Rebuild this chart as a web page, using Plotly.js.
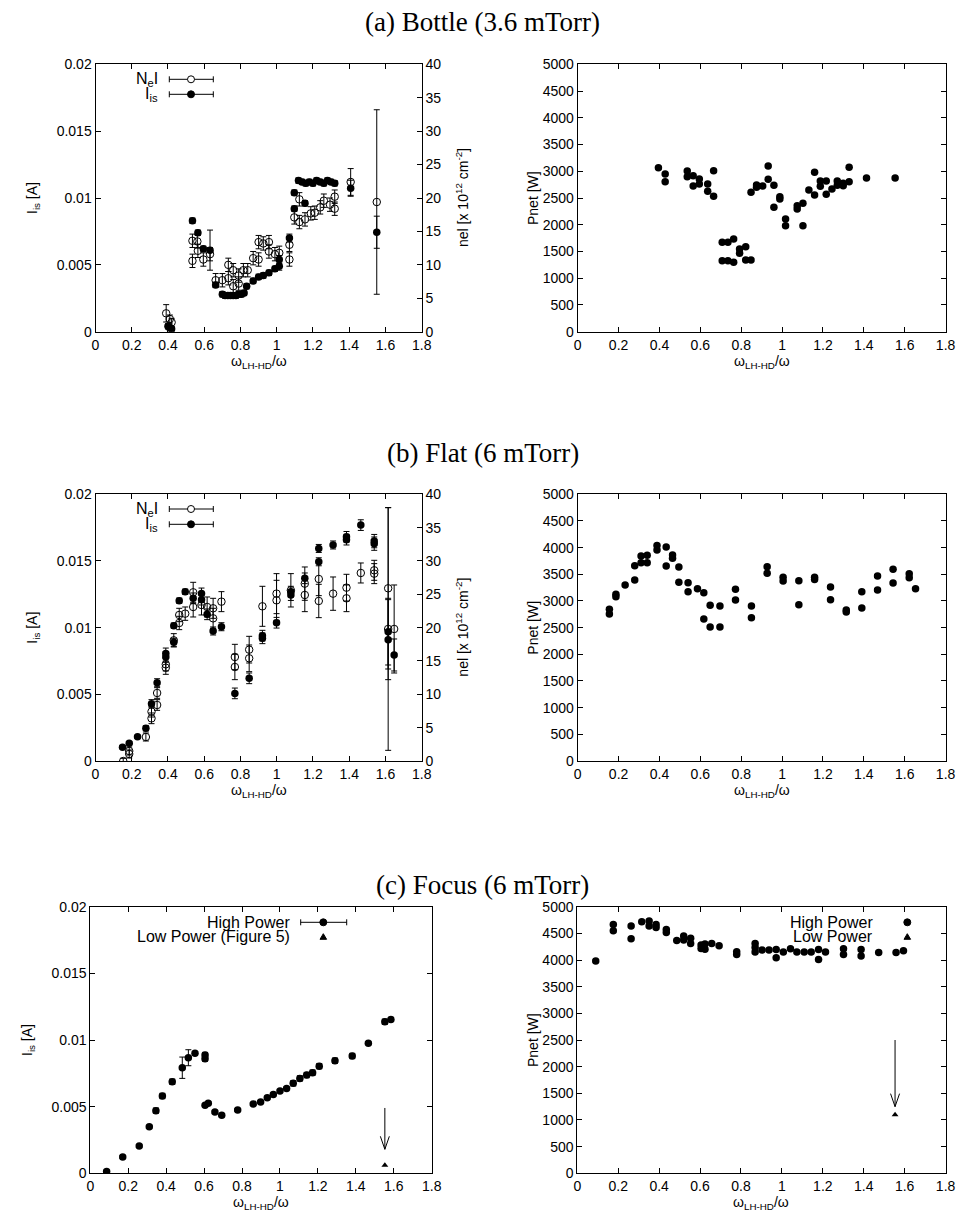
<!DOCTYPE html>
<html><head><meta charset="utf-8">
<script src="https://cdn.plot.ly/plotly-3.0.1.min.js"></script>
<style>html,body{margin:0;padding:0;background:#fff}#chart{width:961px;height:1224px}</style>
</head><body><div id="chart"></div>
<script>
// ---------- tick labels ----------
const xTickVals = [0,0.2,0.4,0.6,0.8,1,1.2,1.4,1.6,1.8];
const xTickText = ['0','0.2','0.4','0.6','0.8','1','1.2','1.4','1.6','1.8'];
const iTickVals = [0,0.005,0.01,0.015,0.02];
const iTickText = ['0','0.005','0.01','0.015','0.02'];
const nTickVals = [0,5,10,15,20,25,30,35,40];
const pTickVals = [0,500,1000,1500,2000,2500,3000,3500,4000,4500,5000];

// ---------- (a) Bottle ----------
const aFilledX = [0.40,0.41,0.42,0.535,0.565,0.595,0.632,0.663,0.70,0.715,0.73,0.745,0.76,0.775,0.79,0.805,0.82,0.834,0.87,0.90,0.926,0.957,0.99,1.014,1.014,1.07,1.097,1.097,1.156,1.12,1.14,1.16,1.18,1.20,1.22,1.24,1.26,1.28,1.30,1.32,1.408,1.552];
const aFilledY = [0.0004,0.0003,0.0002,0.0083,0.0074,0.0062,0.0061,0.0035,0.0028,0.0027,0.0027,0.0027,0.0027,0.0027,0.0028,0.0028,0.0029,0.0034,0.0038,0.0041,0.0042,0.0044,0.0047,0.0054,0.0049,0.0070,0.0104,0.0092,0.0096,0.0113,0.0112,0.0111,0.0112,0.0111,0.0113,0.0112,0.0111,0.0113,0.0112,0.0111,0.01073,0.00744];
const aFilledErr = [0.0002,0.0002,0.0002,0.0002,0.0002,0.0002,0.0015,0.0002,0.0002,0.0002,0.0002,0.0002,0.0002,0.0002,0.0002,0.0002,0.0002,0.0002,0.0002,0.0002,0.0002,0.0002,0.0002,0.0003,0.0003,0.0003,0.0002,0.0002,0.0002,0.0002,0.0002,0.0002,0.0002,0.0002,0.0002,0.0002,0.0002,0.0002,0.0002,0.0002,0.0006,0.0012];
const aOpenX = [0.39,0.41,0.42,0.535,0.535,0.562,0.565,0.595,0.632,0.663,0.70,0.733,0.733,0.76,0.76,0.79,0.79,0.816,0.84,0.87,0.90,0.90,0.926,0.957,0.957,0.99,1.014,1.07,1.07,1.097,1.125,1.125,1.156,1.188,1.21,1.24,1.26,1.294,1.32,1.32,1.408,1.552];
const aOpenY = [2.75,1.9,1.4,13.6,10.6,13.5,12.1,10.8,11.6,7.7,7.7,10.0,8.0,9.2,6.8,8.4,7.2,9.2,9.2,11.0,13.4,10.8,13.2,13.4,12.0,11.6,11.8,10.8,13.0,17.1,19.8,16.4,16.8,17.7,17.8,18.6,19.6,19.0,20.2,18.4,22.4,19.4];
const aOpenErr = [1.3,0.6,0.6,1.0,1.0,1.0,1.0,1.0,1.0,1.0,1.0,1.0,1.0,1.0,1.0,1.0,1.0,1.0,1.0,1.0,1.0,1.0,1.0,1.0,1.0,1.0,1.0,1.0,1.0,1.0,1.0,1.0,1.0,1.0,1.0,1.0,1.0,1.0,1.0,1.0,2.0,13.8];
const aPX = [0.395,0.428,0.428,0.536,0.536,0.565,0.565,0.595,0.595,0.636,0.636,0.665,0.665,0.707,0.707,0.735,0.735,0.763,0.763,0.792,0.792,0.822,0.822,0.848,0.848,0.875,0.875,0.905,0.932,0.932,0.960,0.960,0.989,0.989,1.017,1.017,1.074,1.074,1.102,1.102,1.131,1.159,1.159,1.187,1.187,1.216,1.216,1.244,1.27,1.27,1.299,1.299,1.328,1.328,1.413,1.553];
const aPY = [3067,2949,2805,3005,2899,2918,2725,2856,2762,2762,2625,3011,2532,1672,1328,1672,1328,1734,1298,1546,1466,1590,1341,1341,2607,2743,2700,2725,3099,2849,2737,2326,2525,2480,2107,1983,2357,2295,2401,1983,2650,2980,2556,2818,2718,2818,2568,2668,2818,2737,2775,2730,3074,2805,2874,2874];

// ---------- (b) Flat ----------
const bFilledX = [0.149,0.186,0.232,0.278,0.309,0.34,0.388,0.388,0.432,0.432,0.462,0.495,0.539,0.585,0.585,0.616,0.649,0.695,0.769,0.848,0.921,0.921,0.999,1.078,1.078,1.155,1.232,1.232,1.311,1.385,1.385,1.464,1.538,1.538,1.615,1.615,1.648];
const bFilledY = [0.00103,0.00133,0.00182,0.00245,0.0043,0.00587,0.00807,0.0078,0.0089,0.01015,0.01202,0.01269,0.0122,0.01257,0.0121,0.0110,0.00975,0.01007,0.00507,0.0062,0.0092,0.0094,0.01037,0.01244,0.0127,0.0137,0.01594,0.01494,0.0162,0.01681,0.0166,0.01769,0.01649,0.0163,0.0097,0.0091,0.00795];
const bFilledErr = [0.0001,0.0001,0.0001,0.0002,0.0003,0.0003,0.0004,0.0004,0.0003,0.0002,0.0002,0.0002,0.0004,0.0004,0.0004,0.0004,0.0003,0.0003,0.0004,0.0004,0.0004,0.0004,0.0004,0.0004,0.0004,0.0004,0.0003,0.0003,0.0003,0.0004,0.0004,0.0004,0.0005,0.0005,0.0025,0.0030,0.0012];
const bOpenX = [0.153,0.186,0.186,0.278,0.309,0.309,0.34,0.34,0.388,0.388,0.432,0.462,0.462,0.495,0.539,0.539,0.585,0.616,0.649,0.649,0.695,0.769,0.769,0.848,0.848,0.921,0.999,0.999,1.078,1.155,1.155,1.232,1.232,1.311,1.385,1.385,1.464,1.538,1.538,1.615,1.615,1.648];
const bOpenY = [0.0,1.05,1.5,3.6,6.4,7.4,8.4,10.2,14.5,14.0,18.1,20.7,21.9,22.1,25.3,23.1,23.4,23.1,22.9,21.4,23.9,15.6,14.1,16.7,15.4,23.2,25.1,24.1,25.6,26.6,24.9,27.3,24.0,25.1,26.0,24.4,28.2,28.6,28.1,25.9,19.8,19.8];
const bOpenErr = [0.4,0.6,0.6,0.6,0.8,0.8,0.8,0.8,1.0,1.0,1.0,1.0,1.0,1.0,1.5,1.5,1.5,1.5,1.5,1.5,1.5,1.9,1.9,2.0,2.0,3.0,3.0,3.0,2.5,2.5,2.5,2.5,2.5,2.5,2.0,2.0,1.5,1.5,1.5,12.1,18.2,6.6];
const bPX = [0.155,0.155,0.187,0.187,0.232,0.279,0.279,0.31,0.31,0.34,0.34,0.388,0.388,0.433,0.433,0.464,0.464,0.495,0.495,0.54,0.54,0.586,0.617,0.617,0.648,0.648,0.696,0.696,0.772,0.772,0.85,0.85,0.927,0.927,1.005,1.005,1.082,1.082,1.159,1.159,1.237,1.237,1.314,1.314,1.39,1.39,1.467,1.467,1.543,1.543,1.622,1.622,1.653];
const bPY = [2843,2755,3124,3080,3299,3392,3662,3842,3718,3855,3718,4042,3954,4011,3655,3861,3800,3636,3349,3343,3175,3230,3156,2661,2918,2511,2905,2511,3218,3017,2905,2687,3643,3518,3443,3373,3380,2931,3443,3405,3261,3024,2830,2793,3174,2868,3468,3205,3593,3336,3512,3437,3231];

// ---------- (c) Focus ----------
const cHX = [0.086,0.171,0.258,0.311,0.346,0.38,0.432,0.485,0.517,0.552,0.605,0.605,0.605,0.622,0.657,0.693,0.777,0.859,0.898,0.933,0.965,1.0,1.035,1.07,1.105,1.141,1.172,1.207,1.29,1.381,1.466,1.553,1.585];
const cHY = [0.00013,0.00122,0.00205,0.0035,0.0047,0.0058,0.00687,0.00792,0.00867,0.009,0.00887,0.0086,0.0051,0.00525,0.0046,0.00435,0.00475,0.0052,0.00535,0.00567,0.00592,0.00617,0.00637,0.00675,0.00712,0.00737,0.00755,0.00804,0.00845,0.0088,0.00975,0.01137,0.01154];
const cHErr = [0.0001,0.0001,0.0001,0.0001,0.0002,0.0002,0.0002,0.0008,0.0006,0.0001,0.0002,0.0002,0.0001,0.0001,0.0001,0.0001,0.0001,0.0001,0.0001,0.0001,0.0001,0.0001,0.0001,0.0002,0.0002,0.0002,0.0002,0.0002,0.0002,0.0002,0.0001,0.0002,0.0001];
const cLX = [1.553];
const cLY = [0.0006];
const cArrowI = [0.0049, 0.0018];
const cPHX = [0.09,0.176,0.176,0.263,0.263,0.315,0.351,0.351,0.385,0.385,0.435,0.435,0.486,0.52,0.52,0.554,0.554,0.605,0.605,0.624,0.624,0.657,0.693,0.779,0.779,0.869,0.869,0.869,0.903,0.937,0.972,0.972,1.007,1.042,1.073,1.109,1.143,1.179,1.179,1.213,1.301,1.301,1.387,1.387,1.473,1.558,1.594];
const cPHY = [3981,4668,4549,4637,4399,4718,4731,4637,4668,4612,4574,4518,4368,4449,4374,4406,4312,4281,4218,4300,4200,4312,4268,4155,4105,4312,4237,4149,4187,4187,4199,4043,4149,4212,4149,4149,4149,4199,4012,4149,4212,4105,4199,4074,4143,4143,4174];
const cPLX = [1.553];
const cPLY = [1100];
const cArrowP = [2500, 1250];

// ---------- geometry ----------
const W = 961, H = 1224;
const fx = px => px / W;
const fy = py => 1 - py / H;
const FONT = 'Liberation Sans, Arial, sans-serif';
const SERIF = 'Liberation Serif, Times New Roman, serif';

const eb = (arr) => ({type:'data', array:arr, visible:true, color:'black', thickness:1, width:3});
const filledM = {symbol:'circle', size:7.5, color:'black'};
const openM = {symbol:'circle-open', size:7.5, color:'black', line:{width:1, color:'black'}};
const triM = {symbol:'triangle-up', size:6, color:'black'};

const traces = [
  {x:aOpenX, y:aOpenY, xaxis:'x', yaxis:'y2', mode:'markers', marker:openM, error_y:eb(aOpenErr)},
  {x:aFilledX, y:aFilledY, xaxis:'x', yaxis:'y', mode:'markers', marker:filledM, error_y:eb(aFilledErr)},
  {x:aPX, y:aPY, xaxis:'x2', yaxis:'y3', mode:'markers', marker:filledM},
  {x:bOpenX, y:bOpenY, xaxis:'x3', yaxis:'y5', mode:'markers', marker:openM, error_y:eb(bOpenErr)},
  {x:bFilledX, y:bFilledY, xaxis:'x3', yaxis:'y4', mode:'markers', marker:filledM, error_y:eb(bFilledErr)},
  {x:bPX, y:bPY, xaxis:'x4', yaxis:'y6', mode:'markers', marker:filledM},
  {x:cHX, y:cHY, xaxis:'x5', yaxis:'y7', mode:'markers', marker:filledM, error_y:eb(cHErr)},
  {x:cLX, y:cLY, xaxis:'x5', yaxis:'y7', mode:'markers', marker:triM},
  {x:cPHX, y:cPHY, xaxis:'x6', yaxis:'y8', mode:'markers', marker:filledM},
  {x:cPLX, y:cPLY, xaxis:'x6', yaxis:'y8', mode:'markers', marker:triM}
];

const base = {ticks:'inside', ticklen:5, tickwidth:1, tickcolor:'black', showline:true, linecolor:'black', linewidth:1,
  showgrid:false, zeroline:false, tickfont:{family:FONT, size:14, color:'black'}, fixedrange:true};
function xax(a, b, anchor){ return Object.assign({}, base, {domain:[fx(a), fx(b)], anchor:anchor, range:[0,1.8], tickmode:'array', tickvals:xTickVals, ticktext:xTickText, mirror:'ticks'}); }
function yI(t, b, anchor, mirror){ return Object.assign({}, base, {domain:[fy(b), fy(t)], anchor:anchor, range:[0,0.02], tickmode:'array', tickvals:iTickVals, ticktext:iTickText, mirror:mirror}); }
function yN(over, anchor){ return Object.assign({}, base, {overlaying:over, anchor:anchor, side:'right', range:[0,40], tickmode:'array', tickvals:nTickVals}); }
function yP(t, b, anchor){ return Object.assign({}, base, {domain:[fy(b), fy(t)], anchor:anchor, range:[0,5000], tickmode:'array', tickvals:pTickVals, mirror:'ticks'}); }

const LX = [95.5, 421.7], RX = [577.7, 945.6], CLX = [90.3, 431.7], CRX = [577.3, 945.6];
const AY = [64.3, 331.7], BY = [494.3, 761], CY = [906.7, 1173.3];

const layout = {
  width:W, height:H, margin:{l:0,r:0,t:0,b:0}, paper_bgcolor:'white', plot_bgcolor:'white', showlegend:false,
  font:{family:FONT, color:'black'},
  xaxis: xax(LX[0], LX[1], 'y'),
  yaxis: yI(AY[0], AY[1], 'x', false),
  yaxis2: yN('y', 'x'),
  xaxis2: xax(RX[0], RX[1], 'y3'),
  yaxis3: yP(AY[0], AY[1], 'x2'),
  xaxis3: xax(LX[0], LX[1], 'y4'),
  yaxis4: yI(BY[0], BY[1], 'x3', false),
  yaxis5: yN('y4', 'x3'),
  xaxis4: xax(RX[0], RX[1], 'y6'),
  yaxis6: yP(BY[0], BY[1], 'x4'),
  xaxis5: xax(CLX[0], CLX[1], 'y7'),
  yaxis7: yI(CY[0], CY[1], 'x5', 'ticks'),
  xaxis6: xax(CRX[0], CRX[1], 'y8'),
  yaxis8: yP(CY[0], CY[1], 'x6'),
  annotations: [],
  shapes: []
};

const ann = layout.annotations, shp = layout.shapes;
function txt(px, py, text, size, opts){ ann.push(Object.assign({xref:'paper', yref:'paper', x:fx(px), y:fy(py), text:text, showarrow:false, font:{family:FONT, size:size, color:'black'}, xanchor:'center', yanchor:'middle'}, opts||{})); }

// panel titles
[['(a) Bottle (3.6 mTorr)', 22], ['(b) Flat (6 mTorr)', 453], ['(c) Focus (6 mTorr)', 885]].forEach(t => {
  ann.push({xref:'paper', yref:'paper', x:fx(483), y:fy(t[1]), text:t[0], showarrow:false, font:{family:SERIF, size:27, color:'black'}, xanchor:'center', yanchor:'middle'});
});

// axis titles
const xTitle = '\u03c9<sub>LH-HD</sub>/\u03c9';
[[LX, AY], [RX, AY], [LX, BY], [RX, BY], [CLX, CY], [CRX, CY]].forEach(p => {
  txt((p[0][0]+p[0][1])/2, p[1][1] + 30, xTitle, 14);
});
[[AY, 33], [BY, 33], [CY, 28]].forEach(p => txt(p[1], (p[0][0]+p[0][1])/2, 'I<sub>is</sub> [A]', 14, {textangle:-90}));
[AY, BY].forEach(p => txt(462, (p[0]+p[1])/2, 'nel [x 10<sup>12</sup> cm<sup>-2</sup>]', 14, {textangle:-90}));
[AY, BY, CY].forEach(p => txt(533, (p[0]+p[1])/2, 'Pnet [W]', 14, {textangle:-90}));

// legend keys
function errKey(x0, x1, y, cx, open){
  const ln = {type:'line', xref:'paper', yref:'paper', line:{color:'black', width:1}};
  shp.push(Object.assign({}, ln, {x0:fx(x0), x1:fx(x1), y0:fy(y), y1:fy(y)}));
  shp.push(Object.assign({}, ln, {x0:fx(x0), x1:fx(x0), y0:fy(y-3), y1:fy(y+3)}));
  shp.push(Object.assign({}, ln, {x0:fx(x1), x1:fx(x1), y0:fy(y-3), y1:fy(y+3)}));
  circ(cx, y, open);
}
function circ(cx, y, open){
  shp.push({type:'circle', xref:'paper', yref:'paper', x0:fx(cx-3.5), x1:fx(cx+3.5), y0:fy(y+3.5), y1:fy(y-3.5),
    line:{color:'black', width:1}, fillcolor: open ? 'white' : 'black'});
}
function tri(cx, y){
  const p = `M ${fx(cx-3.3)} ${fy(y+2.6)} L ${fx(cx+3.3)} ${fy(y+2.6)} L ${fx(cx)} ${fy(y-3)} Z`;
  shp.push({type:'path', xref:'paper', yref:'paper', path:p, fillcolor:'black', line:{color:'black', width:1}});
}
[[79.3, 94.3], [509, 524.3]].forEach(r => {
  txt(160, r[0], 'N<sub>e</sub>I', 16, {xanchor:'right'});
  txt(160, r[1], 'I<sub>is</sub>', 16, {xanchor:'right'});
  errKey(169.3, 213.3, r[0], 191, true);
  errKey(169.3, 213.3, r[1], 191, false);
});
txt(291.7, 922.3, 'High Power', 16, {xanchor:'right'});
txt(291.7, 936.7, 'Low Power (Figure 5)', 16, {xanchor:'right'});
errKey(300.7, 346.7, 922.3, 323.3, false);
tri(323.3, 936.7);
txt(875, 922.3, 'High Power', 16, {xanchor:'right'});
txt(875, 936.7, 'Low Power', 16, {xanchor:'right'});
circ(907.3, 922.3, false);
tri(907.3, 936.7);

// arrows (data coordinates)
function arrow(xr, yr, xv, yFrom, yTo, xPerPx, yPerPx){
  shp.push({type:'line', xref:xr, yref:yr, x0:xv, x1:xv, y0:yFrom, y1:yTo, line:{color:'black', width:1}});
  const hw = 4.5 * xPerPx, hl = 13 * yPerPx;
  shp.push({type:'path', xref:xr, yref:yr, path:`M ${xv-hw} ${yTo+hl} L ${xv} ${yTo} L ${xv+hw} ${yTo+hl}`, line:{color:'black', width:1}});
}
arrow('x5', 'y7', cLX[0], cArrowI[0], cArrowI[1], 1.8/(CLX[1]-CLX[0]), 0.02/(CY[1]-CY[0]));
arrow('x6', 'y8', cPLX[0], cArrowP[0], cArrowP[1], 1.8/(CRX[1]-CRX[0]), 5000/(CY[1]-CY[0]));

Plotly.newPlot('chart', traces, layout, {staticPlot:true});
</script></body></html>
